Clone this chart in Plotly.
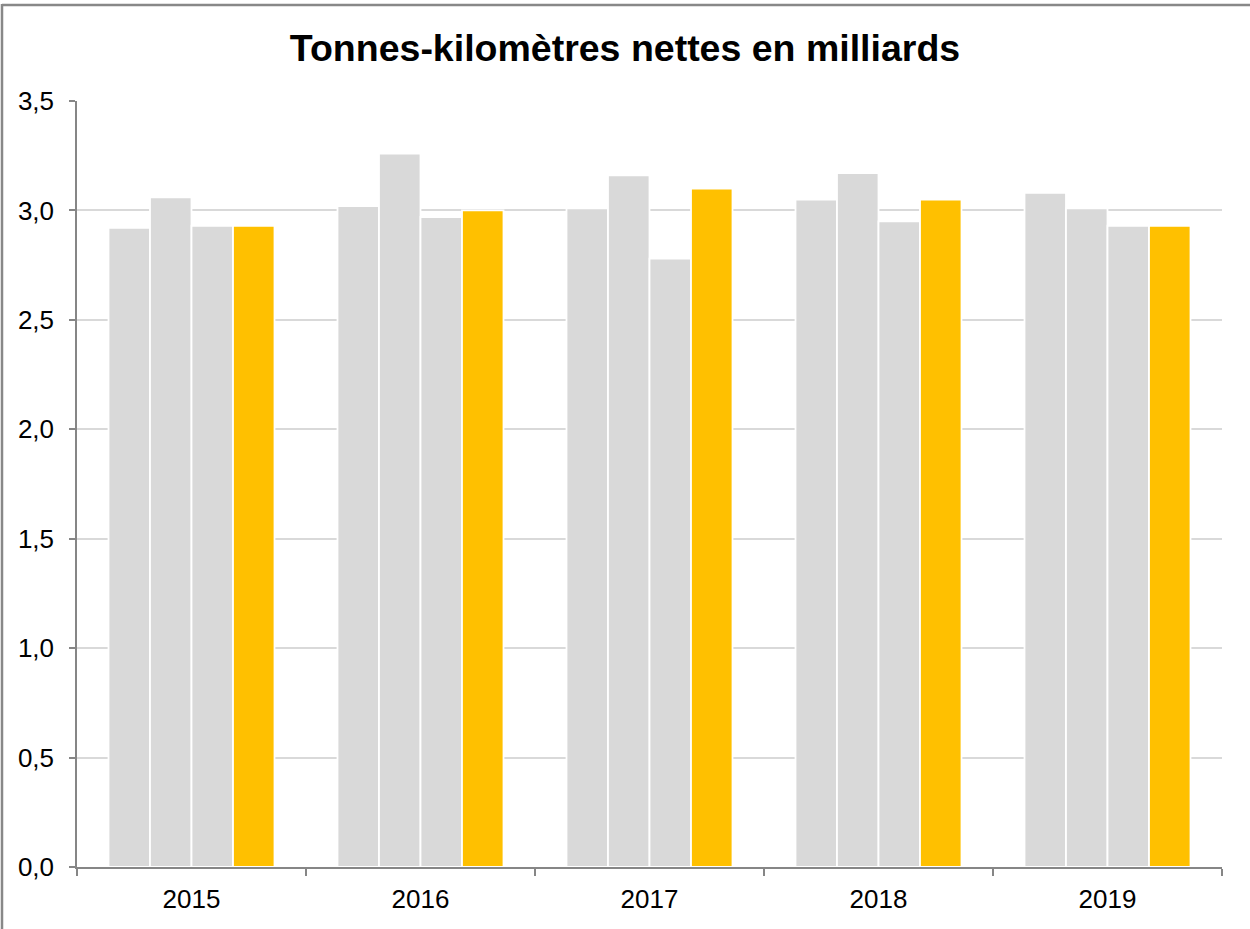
import plotly.graph_objects as go

years = ["2015", "2016", "2017", "2018", "2019"]
series_names = ["T1", "T2", "T3", "T4"]
t1 = [2.92, 3.02, 3.01, 3.05, 3.08]
t2 = [3.06, 3.26, 3.16, 3.17, 3.01]
t3 = [2.93, 2.97, 2.78, 2.95, 2.93]
t4 = [2.93, 3.00, 3.10, 3.05, 2.93]
colors = ["#d9d9d9", "#d9d9d9", "#d9d9d9", "#ffc000"]

W, H = 1250, 929
ML, MR, MT, MB = 77, 28, 101, 62

fig = go.Figure()
for name, vals, c in zip(series_names, [t1, t2, t3, t4], colors):
    fig.add_trace(go.Bar(
        x=years, y=vals, name=name,
        marker=dict(color=c, line=dict(color="white", width=1.8)),
        showlegend=False,
    ))

pw = W - ML - MR
ph = H - MT - MB
fx = lambda px: (px - ML) / pw
fy = lambda py: 1 - (py - MT) / ph

fig.update_layout(
    width=W, height=H,
    margin=dict(l=ML, r=MR, t=MT, b=MB, autoexpand=False),
    paper_bgcolor="white", plot_bgcolor="white",
    separators=", ",
    barmode="group", bargap=0.275, bargroupgap=0,
    font=dict(family="Liberation Sans, Arial, sans-serif", color="black", size=26),
    title=dict(text="<b>Tonnes-kilomètres nettes en milliards</b>",
               x=0.5, xref="container", xanchor="center",
               y=1 - 48 / H, yref="container", yanchor="middle",
               font=dict(size=37.5, color="black")),
    xaxis=dict(
        type="category", tickson="boundaries",
        ticks="outside", ticklen=7, tickwidth=1.5, tickcolor="#868686",
        showline=True, linecolor="#868686", linewidth=1.5,
        showgrid=False, ticklabelstandoff=8,
        tickfont=dict(size=26),
    ),
    yaxis=dict(
        range=[0, 3.5], dtick=0.5, tickformat=".1f",
        ticks="outside", ticklen=6, tickwidth=1.5, tickcolor="#868686",
        showline=True, linecolor="#868686", linewidth=1.5,
        showgrid=True, gridcolor="#d9d9d9", gridwidth=1.5,
        zeroline=False, ticklabelstandoff=10,
        tickfont=dict(size=26),
    ),
    shapes=[
        dict(type="line", xref="paper", yref="paper",
             x0=fx(2), x1=fx(W + 5), y0=fy(5), y1=fy(5),
             line=dict(color="#888888", width=2.5)),
        dict(type="line", xref="paper", yref="paper",
             x0=fx(2), x1=fx(2), y0=fy(4), y1=fy(H + 5),
             line=dict(color="#888888", width=2.5)),
    ],
)

fig.write_html(
    "out.html",
    config={"displayModeBar": False},
    post_script="document.body.style.margin='0';document.body.style.overflow='hidden';",
)
